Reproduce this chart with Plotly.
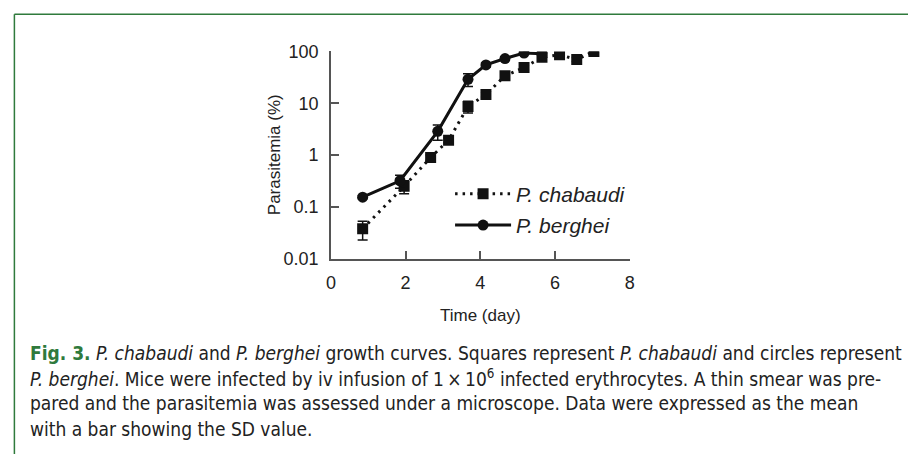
import plotly.graph_objects as go

# ---- data ----
chab_day = [0.85, 1.96, 2.67, 3.15, 3.67, 4.15, 4.66, 5.17, 5.65, 6.12, 6.58, 7.04]
chab_par = [0.038, 0.25, 0.90, 1.94, 8.7, 14.7, 34, 49, 77, 86, 70, 100]
chab_sd = [0.015, 0.07, 0.1, 0.2, 2.2, 1.5, 4, 5, 6, 5, 6, 3]

berg_day = [0.85, 1.85, 2.86, 3.67, 4.15, 4.66, 5.17, 5.65]
berg_par = [0.154, 0.32, 2.88, 29, 55, 73, 93, 90]
berg_sd = [0.01, 0.09, 0.95, 8, 5, 5, 4, 4]

x_ticks = [0, 2, 4, 6, 8]
y_ticks = [0.01, 0.1, 1, 10, 100]
y_ticktext = ["0.01", "0.1", "1", "10", "100"]

W, H = 913, 464
PLOT_FONT = "Liberation Sans, Arial, Helvetica, sans-serif"
CAP_FONT = "DejaVu Sans Condensed, Liberation Sans Narrow, Liberation Sans, sans-serif"
GREEN = "#2f7a3c"

fig = go.Figure()
fig.add_trace(go.Scatter(
    x=chab_day, y=chab_par, mode="lines+markers", name="<i>P. chabaudi</i>",
    legendgroup="a",
    line=dict(color="#111", width=3, dash="2.5px,5px"),
    marker=dict(symbol="square", size=11, color="#111"),
    error_y=dict(type="data", array=chab_sd, color="#111", thickness=1.5, width=5),
))
fig.add_trace(go.Scatter(
    x=berg_day, y=berg_par, mode="lines+markers", name="<i>P. berghei</i>",
    legendgroup="b",
    line=dict(color="#111", width=3),
    marker=dict(symbol="circle", size=11, color="#111"),
    error_y=dict(type="data", array=berg_sd, color="#111", thickness=1.5, width=5),
))

axis_common = dict(
    showline=True, linecolor="#555", linewidth=1.5,
    ticks="inside", ticklen=8, tickwidth=1.5, tickcolor="#555",
    showgrid=False, zeroline=False,
    tickfont=dict(family=PLOT_FONT, size=18, color="#222"),
)
fig.update_layout(
    width=W, height=H,
    margin=dict(l=0, r=0, t=0, b=0),
    paper_bgcolor="white", plot_bgcolor="white",
    xaxis=dict(domain=[329.5 / W, 631.7 / W], range=[0, 8], tickvals=x_ticks,
               ticklabelstandoff=7, **axis_common),
    yaxis=dict(domain=[204 / H, 420.7 / H], type="log", range=[-2, 2],
               tickvals=y_ticks, ticktext=y_ticktext, ticklabelstandoff=7, **axis_common),
    showlegend=True,
    legend=dict(x=450 / W, y=(H - 171) / H, xanchor="left", yanchor="top",
                bgcolor="rgba(0,0,0,0)", itemwidth=56, tracegroupgap=1,
                font=dict(family=PLOT_FONT, size=21, color="#222")),
)

# axis titles
fig.add_annotation(text="Time (day)", xref="paper", yref="paper",
                   x=480.6 / W, y=(H - 319) / H, xanchor="center", yanchor="middle",
                   showarrow=False, font=dict(family=PLOT_FONT, size=17, color="#222"))
fig.add_annotation(text="Parasitemia (%)", xref="paper", yref="paper",
                   x=272 / W, y=(H - 151.7) / H, xanchor="center", yanchor="middle",
                   showarrow=False, textangle=-90,
                   font=dict(family=PLOT_FONT, size=17, color="#222"))

# caption
cap_lines = [
    f"<b><span style='color:{GREEN}'>Fig. 3.</span></b> <i>P. chabaudi</i> and <i>P. berghei</i> growth curves. Squares represent <i>P. chabaudi</i> and circles represent",
    "<i>P. berghei</i>. Mice were infected by iv infusion of 1\u2009\u00d7\u200910<sup>6</sup> infected erythrocytes. A thin smear was pre-",
    "pared and the parasitemia was assessed under a microscope. Data were expressed as the mean",
    "with a bar showing the SD value.",
]
for i, t in enumerate(cap_lines):
    fig.add_annotation(text=t, xref="paper", yref="paper", x=23 / W, y=(H - (358 + 26.5 * i)) / H,
                       xanchor="left", yanchor="middle", showarrow=False, align="left",
                       font=dict(family=CAP_FONT, size=19, color="#222"))

# figure frame (green border, open at right/bottom as in the crop)
fig.add_shape(type="line", xref="paper", yref="paper", x0=9.5 / W, x1=1.0, y0=1 - 4.5 / H, y1=1 - 4.5 / H,
              line=dict(color=GREEN, width=1.5))
fig.add_shape(type="line", xref="paper", yref="paper", x0=9.5 / W, x1=9.5 / W, y0=0, y1=1 - 4.5 / H,
              line=dict(color=GREEN, width=1.5))

fig.write_html("out.html", config={"displayModeBar": False},
               post_script="document.body.style.margin='0';document.body.style.overflow='hidden';")
